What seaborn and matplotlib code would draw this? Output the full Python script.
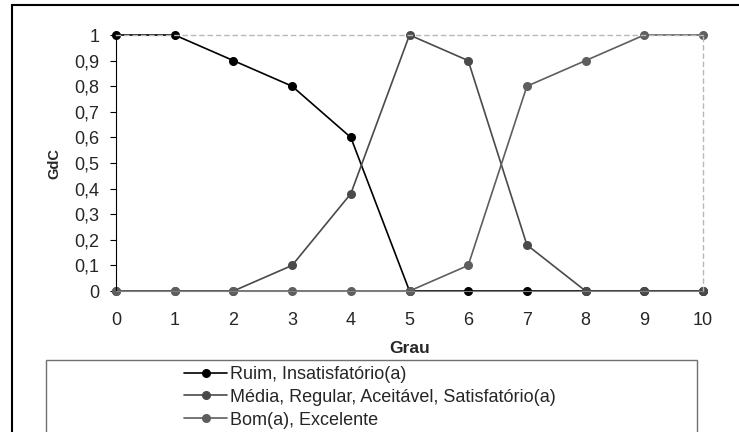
import matplotlib
matplotlib.use("Agg")
import matplotlib.pyplot as plt
import seaborn as sns
import pandas as pd
from matplotlib.patches import Rectangle

grau = [0, 1, 2, 3, 4, 5, 6, 7, 8, 9, 10]
ruim = [1, 1, 0.9, 0.8, 0.6, 0, 0, 0, 0, 0, 0]
media = [0, 0, 0, 0.1, 0.38, 1, 0.9, 0.18, 0, 0, 0]
bom = [0, 0, 0, 0, 0, 0, 0.1, 0.8, 0.9, 1, 1]
series_names = ["Ruim, Insatisfatório(a)",
                "Média, Regular, Aceitável, Satisfatório(a)",
                "Bom(a), Excelente"]
yticks = [0, 0.1, 0.2, 0.3, 0.4, 0.5, 0.6, 0.7, 0.8, 0.9, 1]
ytick_labels = ["0", "0,1", "0,2", "0,3", "0,4", "0,5", "0,6", "0,7", "0,8", "0,9", "1"]

sns.set_style("white")
plt.rcParams["font.family"] = ["Liberation Sans", "DejaVu Sans"]

rows = []
for name, vals in zip(series_names, [ruim, media, bom]):
    for g, v in zip(grau, vals):
        rows.append({"Grau": g, "GdC": v, "Serie": name})
df = pd.DataFrame(rows)

palette = {series_names[0]: "#000000",
           series_names[1]: "#4a4a4a",
           series_names[2]: "#5e5e5e"}

fig = plt.figure(figsize=(7.39, 4.32), dpi=100)
ax = fig.add_axes([116 / 739, 1 - 291 / 432, (703 - 116) / 739, (291 - 35) / 432])

sns.lineplot(data=df, x="Grau", y="GdC", hue="Serie", hue_order=series_names,
             palette=palette, marker="o", markersize=6.5, markeredgewidth=0,
             linewidth=1.2, ax=ax, clip_on=False, legend=True)

ax.set_xlim(0, 10)
ax.set_ylim(0, 1)
ax.set_xticks(grau)
ax.set_xticklabels([str(g) for g in grau], fontsize=13)
ax.set_yticks(yticks)
ax.set_yticklabels(ytick_labels, fontsize=13)
ax.tick_params(axis="y", direction="out", length=4, width=0.8, pad=8, color="#000000", left=True)
ax.tick_params(axis="x", direction="out", length=3, width=0.8, pad=12, color="#555555", bottom=True)

ax.set_xlabel("Grau", fontsize=12.5, fontweight="bold", labelpad=9)
ax.set_ylabel("GdC", fontsize=10.5, fontweight="bold", labelpad=9)

ax.spines["left"].set_color("#000000")
ax.spines["left"].set_linewidth(0.8)
ax.spines["bottom"].set_color("#808080")
ax.spines["bottom"].set_linewidth(0.8)
for s in ["top", "right"]:
    ax.spines[s].set_color("#b8b8b8")
    ax.spines[s].set_linestyle((0, (3, 3)))
    ax.spines[s].set_linewidth(1.0)

handles, labels = ax.get_legend_handles_labels()
ax.legend_.remove()
leg = fig.legend(handles, labels, loc="upper left",
                 bbox_to_anchor=(184 / 739, 1 - 366 / 432),
                 frameon=False, fontsize=13, handlelength=2.4,
                 handletextpad=0.12, labelspacing=0.32, borderpad=0,
                 borderaxespad=0)

# legend box
fig.patches.append(Rectangle((46 / 739, -0.05), (697 - 46) / 739, (432 - 360) / 432 + 0.05,
                             transform=fig.transFigure, fill=False,
                             edgecolor="#707070", linewidth=1.0))
# outer chart frame
fig.patches.append(Rectangle((12 / 739, -0.05), 1.0, 1 - 5 / 432 + 0.05,
                             transform=fig.transFigure, fill=False,
                             edgecolor="#000000", linewidth=1.5))

fig.savefig("out.png", dpi=100)
